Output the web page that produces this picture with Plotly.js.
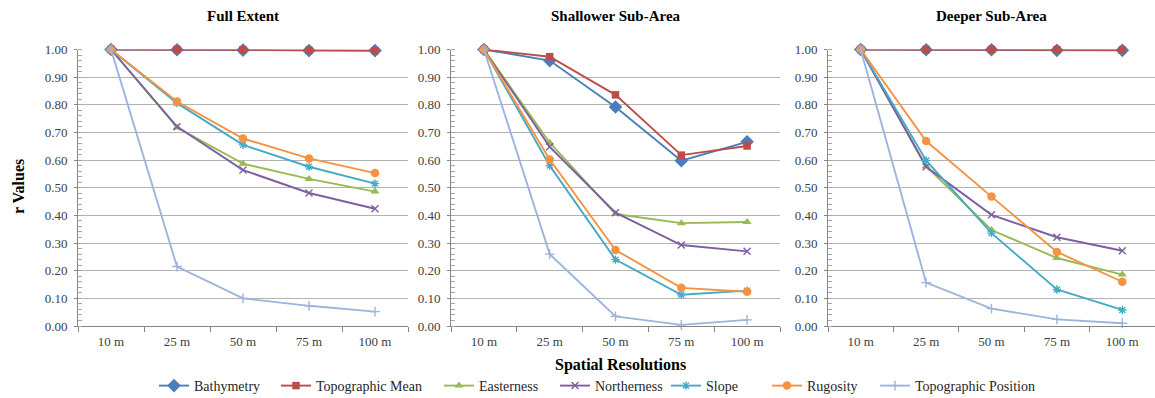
<!DOCTYPE html>
<html>
<head>
<meta charset="utf-8">
<script src="https://cdn.plot.ly/plotly-3.0.1.min.js"></script>
<style>
  html, body { margin: 0; padding: 0; background: #ffffff; overflow: hidden; }
  #chart { width: 1155px; }
</style>
</head>
<body>
<div id="chart"></div>
<script>
// Spatial resolutions shared by every panel
const resolutions = ['10 m', '25 m', '50 m', '75 m', '100 m'];

const panelTitles = ['Full Extent', 'Shallower Sub-Area', 'Deeper Sub-Area'];
const seriesNames = ['Bathymetry', 'Topographic Mean', 'Easterness', 'Northerness',
                     'Slope', 'Rugosity', 'Topographic Position'];

// r values, Full Extent
const fullBathymetry   = [1.000, 0.999, 0.998, 0.996, 0.996];
const fullTopoMean     = [1.000, 1.000, 0.999, 0.997, 0.996];
const fullEasterness   = [1.000, 0.718, 0.587, 0.532, 0.486];
const fullNortherness  = [1.000, 0.721, 0.564, 0.481, 0.424];
const fullSlope        = [1.000, 0.806, 0.655, 0.576, 0.515];
const fullRugosity     = [1.000, 0.812, 0.678, 0.606, 0.553];
const fullTopoPosition = [1.000, 0.215, 0.100, 0.073, 0.052];

// r values, Shallower Sub-Area
const shallowBathymetry   = [1.000, 0.960, 0.792, 0.598, 0.666];
const shallowTopoMean     = [1.000, 0.974, 0.836, 0.618, 0.651];
const shallowEasterness   = [1.000, 0.663, 0.405, 0.372, 0.376];
const shallowNortherness  = [1.000, 0.648, 0.410, 0.293, 0.270];
const shallowSlope        = [1.000, 0.580, 0.240, 0.113, 0.128];
const shallowRugosity     = [1.000, 0.602, 0.275, 0.138, 0.124];
const shallowTopoPosition = [1.000, 0.260, 0.035, 0.004, 0.022];

// r values, Deeper Sub-Area
const deepBathymetry   = [1.000, 0.999, 0.999, 0.997, 0.997];
const deepTopoMean     = [1.000, 1.000, 1.000, 0.999, 0.998];
const deepEasterness   = [1.000, 0.578, 0.347, 0.246, 0.186];
const deepNortherness  = [1.000, 0.576, 0.402, 0.321, 0.272];
const deepSlope        = [1.000, 0.599, 0.336, 0.132, 0.058];
const deepRugosity     = [1.000, 0.669, 0.468, 0.268, 0.160];
const deepTopoPosition = [1.000, 0.157, 0.063, 0.024, 0.010];

const panelData = [
  [fullBathymetry, fullTopoMean, fullEasterness, fullNortherness, fullSlope, fullRugosity, fullTopoPosition],
  [shallowBathymetry, shallowTopoMean, shallowEasterness, shallowNortherness, shallowSlope, shallowRugosity, shallowTopoPosition],
  [deepBathymetry, deepTopoMean, deepEasterness, deepNortherness, deepSlope, deepRugosity, deepTopoPosition]
];

// Series styling
const seriesStyles = [
  { color: '#4A7EBB', symbol: 'diamond',       size: 10.5 },
  { color: '#BE4B48', symbol: 'square',        size: 7.5 },
  { color: '#98B954', symbol: 'triangle-up',   size: 8 },
  { color: '#7D60A0', symbol: 'x-thin',        size: 7 },
  { color: '#46AAC5', symbol: 'asterisk',      size: 7 },
  { color: '#F69240', symbol: 'circle',        size: 8.5 },
  { color: '#9DB4DC', symbol: 'cross-thin',    size: 7 }
];

// Figure is a few px taller than the view so the legend's bottom padding falls below it
const W = 1155, H = 402;
const serif = 'Liberation Serif, Times New Roman, Times, serif';

// Panel extents in pixels (left, right), and plot area top/bottom measured from the top
const panelPx = [[78, 408], [451, 780], [828, 1155]];
const plotTop = 49.5, plotBottom = 326;

// Left edge (px) of each legend entry's line sample, one legend box per series
const legendEntryPx = [163, 285, 448, 564, 675, 776, 884];

const legendIds = seriesNames.map((_, s) => s === 0 ? 'legend' : 'legend' + (s + 1));

const traces = [];
panelData.forEach((panel, p) => {
  const suffix = p === 0 ? '' : String(p + 1);
  panel.forEach((vals, s) => {
    const st = seriesStyles[s];
    const lineMarker = st.symbol === 'x-thin' || st.symbol === 'asterisk' || st.symbol === 'cross-thin';
    traces.push({
      type: 'scatter',
      mode: 'lines+markers',
      name: seriesNames[s],
      legendgroup: seriesNames[s],
      legend: legendIds[s],
      showlegend: p === 0,
      x: resolutions,
      y: vals,
      xaxis: 'x' + suffix,
      yaxis: 'y' + suffix,
      cliponaxis: false,
      line: { color: st.color, width: 1.9 },
      marker: lineMarker
        ? { symbol: st.symbol, size: st.size, color: st.color, line: { color: st.color, width: 1.4 } }
        : { symbol: st.symbol, size: st.size, color: st.color, line: { width: 0 } }
    });
  });
});

const layout = {
  width: W,
  height: H,
  margin: { l: 0, r: 0, t: 0, b: 0 },
  paper_bgcolor: '#ffffff',
  plot_bgcolor: '#ffffff',
  font: { family: serif, size: 13, color: '#404040' },
  showlegend: true,
  annotations: [],
  hovermode: false
};

legendIds.forEach((id, s) => {
  layout[id] = {
    orientation: 'h',
    x: (legendEntryPx[s] - 9) / W,
    xanchor: 'left',
    y: 0,
    yanchor: 'bottom',
    font: { family: serif, size: 14, color: '#262626' },
    bgcolor: 'rgba(0,0,0,0)',
    borderwidth: 0
  };
});

panelPx.forEach((px, p) => {
  const suffix = p === 0 ? '' : String(p + 1);
  layout['xaxis' + suffix] = {
    domain: [px[0] / W, px[1] / W],
    anchor: 'y' + suffix,
    type: 'category',
    range: [-0.5, resolutions.length - 0.5],
    tickson: 'boundaries',
    ticks: 'outside',
    ticklen: 5,
    tickcolor: '#868686',
    ticklabelstandoff: 3,
    showgrid: false,
    showline: true,
    linecolor: '#868686',
    linewidth: 1,
    tickfont: { family: serif, size: 13, color: '#404040' },
    fixedrange: true
  };
  layout['yaxis' + suffix] = {
    domain: [1 - plotBottom / H, 1 - plotTop / H],
    anchor: 'x' + suffix,
    range: [0, 1],
    dtick: 0.1,
    tick0: 0,
    tickformat: '.2f',
    ticks: 'outside',
    ticklen: 3,
    tickcolor: '#868686',
    ticklabelstandoff: 4,
    showgrid: true,
    gridcolor: '#B3B3B3',
    gridwidth: 1,
    zeroline: false,
    showline: true,
    linecolor: '#868686',
    linewidth: 1,
    minor: { dtick: 0.02, ticks: 'inside', ticklen: 4, tickcolor: '#A6A6A6', showgrid: false },
    tickfont: { family: serif, size: 13, color: '#404040' },
    fixedrange: true
  };
  layout.annotations.push({
    text: '<b>' + panelTitles[p] + '</b>',
    xref: 'paper', yref: 'paper',
    x: (px[0] + px[1]) / 2 / W,
    y: 1 - 16 / H,
    xanchor: 'center', yanchor: 'middle',
    showarrow: false,
    font: { family: serif, size: 15, color: '#000000' }
  });
});

// Shared axis titles
layout.annotations.push({
  text: '<b>r Values</b>',
  xref: 'paper', yref: 'paper',
  x: 18 / W, y: 1 - 187 / H,
  xanchor: 'center', yanchor: 'middle',
  textangle: -90,
  showarrow: false,
  font: { family: serif, size: 16, color: '#000000' }
});
layout.annotations.push({
  text: '<b>Spatial Resolutions</b>',
  xref: 'paper', yref: 'paper',
  x: 620 / W, y: 1 - 365 / H,
  xanchor: 'center', yanchor: 'middle',
  showarrow: false,
  font: { family: serif, size: 16, color: '#000000' }
});

Plotly.newPlot('chart', traces, layout, { displayModeBar: false, staticPlot: true });
</script>
</body>
</html>
